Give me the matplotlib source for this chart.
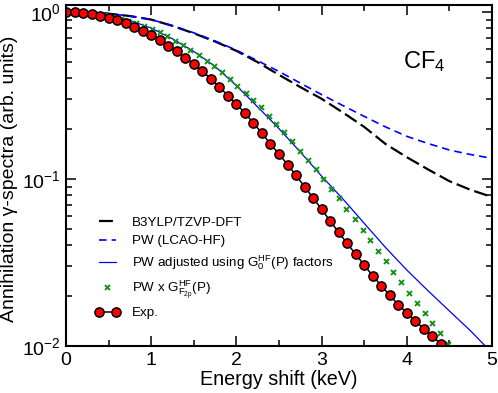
import numpy as np
import matplotlib
matplotlib.use("Agg")
import matplotlib.pyplot as plt
from matplotlib.legend_handler import HandlerLine2D

plt.rcParams['font.family'] = ['Liberation Sans', 'DejaVu Sans']
plt.rcParams['mathtext.fontset'] = 'custom'
plt.rcParams['mathtext.rm'] = 'Liberation Sans'
plt.rcParams['mathtext.it'] = 'Liberation Sans'
plt.rcParams['lines.scale_dashes'] = False

# ---- data ----
# smooth curves (every 0.25 keV)
x_curve = [0.0, 0.25, 0.5, 0.75, 1.0, 1.25, 1.5, 1.75, 2.0, 2.25, 2.5,
           2.75, 3.0, 3.25, 3.5, 3.75, 4.0, 4.25, 4.5, 4.75, 5.0]

b3lyp = [1.0, 0.995, 0.977, 0.945, 0.90, 0.825, 0.745, 0.665, 0.585, 0.50, 0.42,
         0.355, 0.302, 0.25, 0.205, 0.162, 0.135, 0.114, 0.097, 0.086, 0.078]

pw_lcao = [1.0, 0.995, 0.977, 0.945, 0.90, 0.828, 0.75, 0.67, 0.59, 0.51, 0.44,
           0.375, 0.32, 0.275, 0.237, 0.205, 0.18, 0.163, 0.149, 0.14, 0.133]

x_adj = [0.0, 0.25, 0.5, 0.75, 1.0, 1.25, 1.5, 1.75, 2.0, 2.25, 2.5,
         2.75, 3.0, 3.25, 3.5, 3.75, 4.0, 4.25, 4.5, 4.75, 4.92]
pw_adj = [1.0, 0.988, 0.955, 0.89, 0.80, 0.69, 0.58, 0.472, 0.362, 0.27, 0.20,
          0.145, 0.104, 0.0759, 0.0543, 0.0389, 0.0285, 0.0214, 0.0162, 0.0123, 0.0100]

# PW x G_F2p points
x_f2p = [0.0, 0.09, 0.18, 0.27, 0.37, 0.46, 0.55, 0.64, 0.73, 0.82,
         0.92, 1.01, 1.10, 1.19, 1.28, 1.37, 1.46, 1.56, 1.65, 1.74,
         1.83, 1.92, 2.01, 2.11, 2.20, 2.29, 2.38, 2.47, 2.56, 2.65,
         2.75, 2.84, 2.93, 3.02, 3.11, 3.20, 3.29, 3.39, 3.48, 3.57,
         3.66, 3.75, 3.84, 3.93, 4.03, 4.12, 4.21, 4.30, 4.39, 4.48]
pw_f2p = [1.0, 0.998, 0.992, 0.983, 0.969, 0.953, 0.933, 0.91, 0.884, 0.853,
          0.825, 0.794, 0.755, 0.714, 0.674, 0.634, 0.594, 0.553, 0.510, 0.472,
          0.436, 0.397, 0.361, 0.328, 0.298, 0.268, 0.239, 0.213, 0.190, 0.168,
          0.148, 0.130, 0.114, 0.100, 0.087, 0.0765, 0.0658, 0.0573, 0.0497, 0.0431,
          0.0372, 0.0322, 0.0279, 0.0242, 0.0209, 0.0181, 0.0157, 0.0137, 0.0119, 0.0103]

# experiment
x_exp = [0.0, 0.1, 0.2, 0.3, 0.4, 0.5, 0.6, 0.7, 0.8, 0.9,
         1.0, 1.1, 1.2, 1.3, 1.4, 1.5, 1.6, 1.7, 1.8, 1.9,
         2.0, 2.1, 2.2, 2.3, 2.4, 2.5, 2.6, 2.7, 2.8, 2.9,
         3.0, 3.1, 3.2, 3.3, 3.4, 3.5, 3.6, 3.7, 3.8, 3.9,
         4.0, 4.1, 4.2, 4.3, 4.4]
y_exp = [1.0, 0.996, 0.986, 0.973, 0.95, 0.925, 0.895, 0.862, 0.816, 0.768,
         0.726, 0.676, 0.627, 0.581, 0.532, 0.488, 0.443, 0.398, 0.355, 0.316,
         0.281, 0.248, 0.216, 0.188, 0.162, 0.141, 0.122, 0.105, 0.090, 0.077,
         0.0658, 0.056, 0.048, 0.0411, 0.0355, 0.0305, 0.0263, 0.023, 0.0201, 0.0177,
         0.0158, 0.0141, 0.0127, 0.0114, 0.0103]

labels = ['B3YLP/TZVP-DFT',
          'PW (LCAO-HF)',
          r'PW adjusted using G$_0^{\rm HF}$(P) factors',
          r'PW x G$^{\rm HF}_{{\rm F}_{2p}}$(P)',
          'Exp.']

fig = plt.figure(figsize=(4.98, 3.93), dpi=100)
ax = fig.add_axes([0.1325, 0.1196, 0.8555, 0.8676])

l1, = ax.plot(x_curve, b3lyp, color='black', lw=1.6, dashes=(10, 3.6), label=labels[0])
l2, = ax.plot(x_curve, pw_lcao, color='#0000ff', lw=1.2, dashes=(5.5, 3.6), label=labels[1])
l3, = ax.plot(x_adj, pw_adj, color='#0000ff', lw=0.9, label=labels[2])
l4, = ax.plot(x_f2p, pw_f2p, ls='none', marker='x', ms=3.6, mew=1.4,
              color='#139313', label=labels[3])
l5, = ax.plot(x_exp, y_exp, color='black', lw=1.1, marker='o', ms=6.6,
              mfc='#ff0000', mec='black', mew=1.1, label=labels[4])

ax.set_yscale('log')
ax.set_xlim(0, 5)
ax.set_ylim(0.01, 1.1)
ax.set_xticks([0, 1, 2, 3, 4, 5])
ax.set_xticks([0.5, 1.5, 2.5, 3.5, 4.5], minor=True)
ax.set_yticks([0.01, 0.1, 1.0])

ax.tick_params(which='both', direction='in', top=True, right=True, width=1.1)
ax.tick_params(which='major', length=7.5, labelsize=14, pad=4)
ax.tick_params(which='minor', length=4)
ax.tick_params(axis='y', which='minor', labelleft=False)
for sp in ax.spines.values():
    sp.set_linewidth(1.5)

ax.set_xlabel('Energy shift (keV)', fontsize=14.2, labelpad=1)
ax.set_ylabel('Annihilation \u03b3-spectra (arb. units)', fontsize=14)
ax.yaxis.set_label_coords(-0.112, 0.49)

ax.text(0.79, 0.815, r'CF$_4$', transform=ax.transAxes, fontsize=17)

leg = ax.legend(handles=[l1, l2, l3, l4, l5], loc='upper left',
                bbox_to_anchor=(0.067, 0.379), frameon=False, fontsize=9.6,
                handlelength=1.9, handletextpad=0.93, labelspacing=0.45,
                borderpad=0, borderaxespad=0, numpoints=2,
                handler_map={l4: HandlerLine2D(numpoints=1)})

fig.savefig('out.png', dpi=100)
